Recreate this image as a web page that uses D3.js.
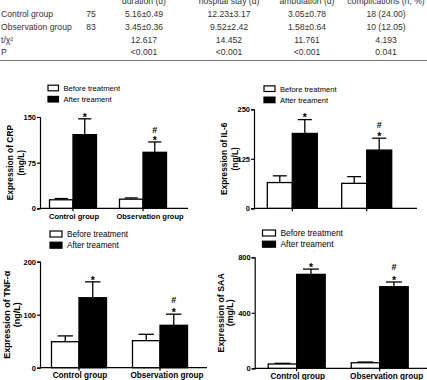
<!DOCTYPE html>
<html lang="en">
<head>
  <meta charset="UTF-8">
  <title>Inflammatory markers before and after treatment</title>
  <script src="https://d3js.org/d3.v7.min.js"></script>
  <style>
    body {
      margin: 0;
      background: #fff;
    }
    svg {
      display: block;
      font-family: "Liberation Sans", Arial, sans-serif;
    }
    .tbl {
      font-size: 8.6px;
      fill: #333;
    }
    .tick text {
      font-weight: bold;
      font-size: 7.5px;
    }
    .ylab, .cat {
      font-weight: bold;
    }
  </style>
</head>
<body>
  <svg width="427" height="380"></svg>

  <script>
    // table data
    const tableHeader = ["duration (d)", "hospital stay (d)", "ambulation (d)", "complications (n, %)"];
    const tableRowLabels = ["Control group", "Observation group", "t/χ²", "P"];
    const tableN = ["75", "83", "", ""];
    const tableRows = [
      ["5.16±0.49", "12.23±3.17", "3.05±0.78", "18 (24.00)"],
      ["3.45±0.36", "9.52±2.42", "1.58±0.64", "10 (12.05)"],
      ["12.617", "14.452", "11.761", "4.193"],
      ["<0.001", "<0.001", "<0.001", "0.041"]
    ];

    // chart data
    const groups = ["Control group", "Observation group"];
    const series = ["Before treatment", "After treament"];

    const crpBefore = [14, 15], crpBeforeErr = [2, 2];
    const crpAfter = [121, 92], crpAfterErr = [26, 17];
    const il6Before = [65, 63], il6BeforeErr = [17, 17];
    const il6After = [189, 147], il6AfterErr = [35, 30];
    const tnfBefore = [49, 51], tnfBeforeErr = [11, 12];
    const tnfAfter = [132, 80], tnfAfterErr = [30, 21];
    const saaBefore = [31, 40], saaBeforeErr = [5, 5];
    const saaAfter = [677, 588], saaAfterErr = [38, 34];

    const crpTicks = [0, 75, 150];
    const il6Ticks = [0, 125, 250];
    const tnfTicks = [0, 100, 200];
    const saaTicks = [0, 400, 800];

    const afterMarks = [["*"], ["*", "#"]];

    const svg = d3.select("svg");

    // ---- table ----
    const colX = [144, 229, 307, 386];
    const rowY = [17, 29.5, 42.5, 55];
    const tbl = svg.append("g").attr("class", "tbl");

    tbl.selectAll(".hd").data(tableHeader).join("text")
      .attr("x", (d, i) => colX[i]).attr("y", 3.5)
      .attr("text-anchor", "middle").text(d => d);

    tableRowLabels.forEach((lab, r) => {
      tbl.append("text").attr("x", 1).attr("y", rowY[r]).text(lab);
      tbl.append("text").attr("x", 91).attr("y", rowY[r])
        .attr("text-anchor", "middle").text(tableN[r]);
      tbl.selectAll(null).data(tableRows[r]).join("text")
        .attr("x", (d, i) => colX[i]).attr("y", rowY[r])
        .attr("text-anchor", "middle").text(d => d);
    });

    svg.append("line")
      .attr("x1", 0).attr("x2", 427).attr("y1", 60.5).attr("y2", 60.5)
      .attr("stroke", "#777").attr("stroke-width", 1);

    // ---- bar panels ----
    const panels = [
      {before: crpBefore, beforeErr: crpBeforeErr, after: crpAfter, afterErr: crpAfterErr,
       ticks: crpTicks, ylab: ["Expression of CRP", "(mg/L)"], cats: true,
       ax: 40, top: 117, zero: 208.3, xEnd: 188, c: [73, 143], bw: 23.5,
       ylx: [10, 20.5], lx: 48, ly: 88, fs: 7.6, yfs: 8.4, cfs: 7.5, box: [10.5, 5.6], hashGap: 9},
      {before: il6Before, beforeErr: il6BeforeErr, after: il6After, afterErr: il6AfterErr,
       ticks: il6Ticks, ylab: ["Expression of IL-6", "(ng/L)"], cats: false,
       ax: 254, top: 109.3, zero: 208.3, xEnd: 417, c: [292.3, 366.7], bw: 25,
       ylx: [224, 235], lx: 264, ly: 88.7, fs: 7.6, yfs: 8.4, cfs: 7.5, box: [11, 5.6], hashGap: 10},
      {before: tnfBefore, beforeErr: tnfBeforeErr, after: tnfAfter, afterErr: tnfAfterErr,
       ticks: tnfTicks, ylab: ["Expression of TNF-α", "(ng/L)"], cats: true,
       ax: 40, top: 261.7, zero: 367.7, xEnd: 207, c: [79, 160], bw: 27.5,
       ylx: [6.5, 17], lx: 50, ly: 234, fs: 8.2, yfs: 9, cfs: 8.2, box: [12, 6], hashGap: 11},
      {before: saaBefore, beforeErr: saaBeforeErr, after: saaAfter, afterErr: saaAfterErr,
       ticks: saaTicks, ylab: ["Expression of SAA", "(mg/L)"], cats: true,
       ax: 254.7, top: 257.3, zero: 368.3, xEnd: 427, c: [296.7, 379.7], bw: 28.5,
       ylx: [220.5, 229.5], lx: 262.5, ly: 233, fs: 8.4, yfs: 8.8, cfs: 8.2, box: [13, 6], hashGap: 12}
    ];

    panels.forEach(p => {
      const g = svg.append("g");
      const y = d3.scaleLinear()
        .domain([p.ticks[0], p.ticks[p.ticks.length - 1]])
        .range([p.zero, p.top]);
      const x = d3.scalePoint().domain(groups).range(p.c);

      // y axis
      g.append("g")
        .attr("transform", `translate(${p.ax},0)`)
        .call(d3.axisLeft(y).tickValues(p.ticks).tickSize(3).tickPadding(1))
        .call(a => a.select(".domain").attr("stroke-width", 1.2))
        .call(a => a.selectAll(".tick line").attr("stroke-width", 1.2));

      // x axis line + ticks
      g.append("line")
        .attr("x1", p.ax).attr("x2", p.xEnd)
        .attr("y1", p.zero).attr("y2", p.zero)
        .attr("stroke", "#000").attr("stroke-width", 1.2);
      g.selectAll(".xt").data(groups).join("line")
        .attr("x1", d => x(d)).attr("x2", d => x(d))
        .attr("y1", p.zero).attr("y2", p.zero + 3)
        .attr("stroke", "#000").attr("stroke-width", 1.2);

      if (p.cats) {
        g.selectAll(".cat").data(groups).join("text")
          .attr("class", "cat")
          .attr("x", (d, i) => x(d) + (i ? 7 : 1))
          .attr("y", p.zero + 10.5)
          .attr("text-anchor", "middle")
          .style("font-size", p.cfs + "px")
          .text(d => d);
      }

      // bars: before (white), after (black)
      const bars = [
        {vals: p.before, errs: p.beforeErr, fill: "#fff", dx: -p.bw},
        {vals: p.after, errs: p.afterErr, fill: "#000", dx: 0}
      ];
      bars.forEach(b => {
        groups.forEach((grp, i) => {
          const x0 = x(grp) + b.dx;
          const cx = x0 + p.bw / 2;
          const yTop = y(b.vals[i]);
          const yErr = y(b.vals[i] + b.errs[i]);
          const cap = p.bw * 0.28;
          g.append("line")
            .attr("x1", cx).attr("x2", cx).attr("y1", yTop).attr("y2", yErr)
            .attr("stroke", "#000").attr("stroke-width", 1.3);
          g.append("line")
            .attr("x1", cx - cap).attr("x2", cx + cap).attr("y1", yErr).attr("y2", yErr)
            .attr("stroke", "#000").attr("stroke-width", 1.3);
          g.append("rect")
            .attr("x", x0).attr("y", yTop)
            .attr("width", p.bw).attr("height", y(0) - yTop)
            .attr("fill", b.fill).attr("stroke", "#000").attr("stroke-width", 1.3);
        });
      });

      // significance marks above "after" bars
      groups.forEach((grp, i) => {
        const cx = x(grp) + p.bw / 2;
        const yErr = y(p.after[i] + p.afterErr[i]);
        afterMarks[i].forEach(m => {
          g.append("text")
            .attr("x", cx).attr("y", m === "*" ? yErr + 1.8 : yErr - p.hashGap)
            .attr("text-anchor", "middle")
            .style("font-size", m === "*" ? "10.5px" : "9px").style("font-weight", "bold")
            .text(m);
        });
      });

      // y label
      p.ylab.forEach((t, k) => {
        g.append("text")
          .attr("class", "ylab")
          .attr("transform", `translate(${p.ylx[k] + 3},${(p.top + p.zero) / 2}) rotate(-90)`)
          .attr("text-anchor", "middle")
          .style("font-size", p.yfs + "px")
          .text(t);
      });

      // legend
      series.forEach((s, k) => {
        const ly = p.ly + k * 11.2;
        g.append("rect")
          .attr("x", p.lx).attr("y", ly - p.box[1] / 2)
          .attr("width", p.box[0]).attr("height", p.box[1])
          .attr("fill", k ? "#000" : "#fff")
          .attr("stroke", "#000").attr("stroke-width", 1.2);
        g.append("text")
          .attr("x", p.lx + p.box[0] + 5).attr("y", ly + 2.8)
          .style("font-size", p.fs + "px")
          .text(s);
      });
    });
  </script>
</body>
</html>
